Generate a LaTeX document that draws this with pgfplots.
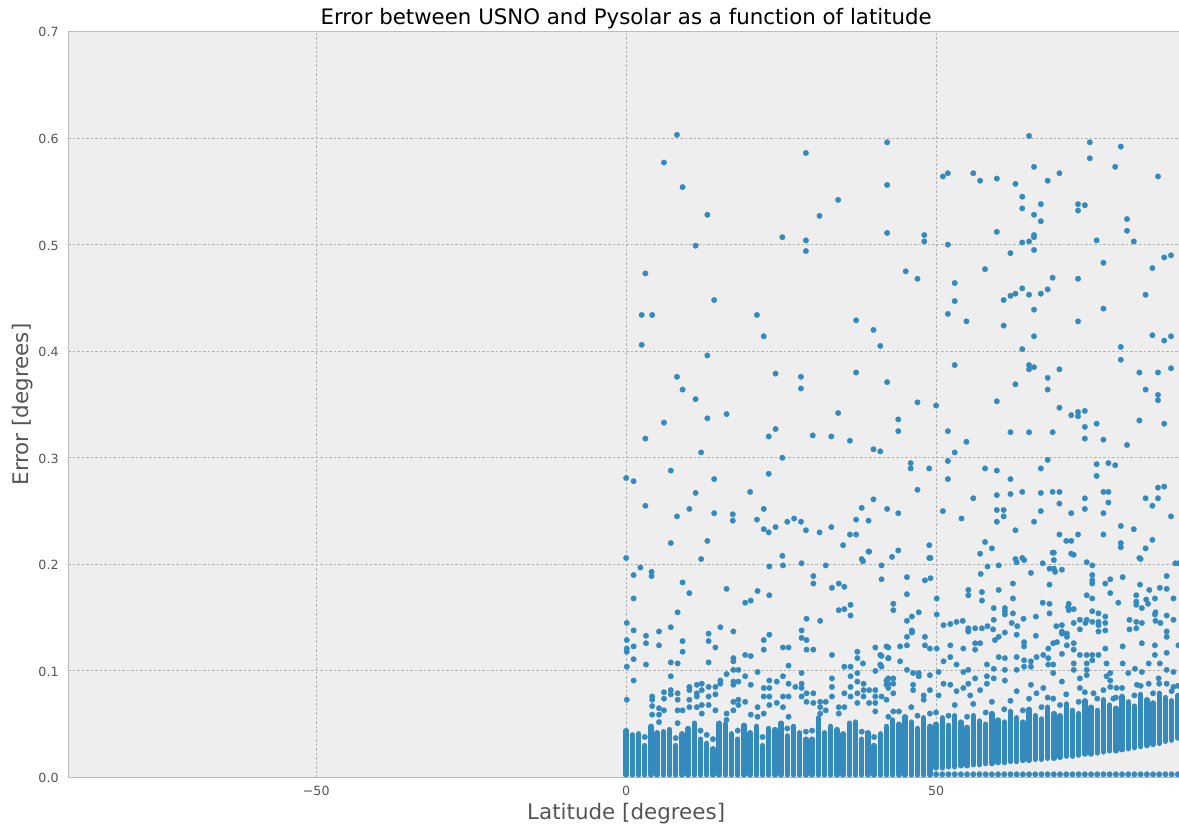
\documentclass[border=0pt]{standalone}
\usepackage{pgfplots}
\pgfplotsset{compat=1.18}
\usepackage{pgfplotstable}
\usepackage{fontspec}
\setmainfont{DejaVu Sans}
\definecolor{c1}{HTML}{348ABD}
\definecolor{bgc}{HTML}{EEEEEE}
\definecolor{gridc}{HTML}{B2B2B2}
\definecolor{spinec}{HTML}{BCBCBC}
\definecolor{tickc}{HTML}{555555}

% dense columns: latitude, lowest and highest marker centre of each solid stack (nan ends a column)
\pgfplotstableread{
lat err
0 0.0025
0 0.044
0 nan
1 0.0025
1 0.040
1 nan
2 0.0025
2 0.041
2 nan
3 0.0025
3 0.030
3 nan
4 0.0025
4 0.048
4 nan
5 0.0025
5 0.042
5 nan
6 0.0025
6 0.043
6 nan
7 0.0025
7 0.045
7 nan
8 0.0025
8 0.030
8 nan
9 0.0025
9 0.041
9 nan
10 0.0025
10 0.046
10 nan
11 0.0025
11 0.051
11 nan
12 0.0025
12 0.036
12 nan
13 0.0025
13 0.032
13 nan
14 0.0025
14 0.027
14 nan
15 0.0025
15 0.051
15 nan
16 0.0025
16 0.050
16 nan
17 0.0025
17 0.041
17 nan
18 0.0025
18 0.036
18 nan
19 0.0025
19 0.049
19 nan
20 0.0025
20 0.042
20 nan
21 0.0025
21 0.048
21 nan
22 0.0025
22 0.030
22 nan
23 0.0025
23 0.046
23 nan
24 0.0025
24 0.045
24 nan
25 0.0025
25 0.051
25 nan
26 0.0025
26 0.039
26 nan
27 0.0025
27 0.048
27 nan
28 0.0025
28 0.042
28 nan
29 0.0025
29 0.036
29 nan
30 0.0025
30 0.036
30 nan
31 0.0025
31 0.056
31 nan
32 0.0025
32 0.042
32 nan
33 0.0025
33 0.048
33 nan
34 0.0025
34 0.045
34 nan
35 0.0025
35 0.041
35 nan
36 0.0025
36 0.051
36 nan
37 0.0025
37 0.052
37 nan
38 0.0025
38 0.036
38 nan
39 0.0025
39 0.042
39 nan
40 0.0025
40 0.030
40 nan
41 0.0025
41 0.041
41 nan
42 0.0025
42 0.048
42 nan
43 0.0025
43 0.054
43 nan
44 0.0025
44 0.050
44 nan
45 0.0025
45 0.057
45 nan
46 0.0025
46 0.052
46 nan
47 0.0025
47 0.046
47 nan
48 0.0025
48 0.056
48 nan
49 0.0025
49 0.048
49 nan
50 0.009
50 0.050
50 nan
51 0.009
51 0.056
51 nan
52 0.010
52 0.049
52 nan
53 0.010
53 0.058
53 nan
54 0.011
54 0.052
54 nan
55 0.011
55 0.047
55 nan
56 0.012
56 0.058
56 nan
57 0.012
57 0.053
57 nan
58 0.013
58 0.050
58 nan
59 0.013
59 0.060
59 nan
60 0.014
60 0.054
60 nan
61 0.014
61 0.052
61 nan
62 0.015
62 0.062
62 nan
63 0.015
63 0.056
63 nan
64 0.016
64 0.052
64 nan
65 0.016
65 0.064
65 nan
66 0.017
66 0.058
66 nan
67 0.017
67 0.055
67 nan
68 0.018
68 0.066
68 nan
69 0.018
69 0.060
69 nan
70 0.019
70 0.058
70 nan
71 0.020
71 0.069
71 nan
72 0.020
72 0.063
72 nan
73 0.021
73 0.060
73 nan
74 0.022
74 0.072
74 nan
75 0.022
75 0.066
75 nan
76 0.023
76 0.063
76 nan
77 0.024
77 0.073
77 nan
78 0.025
78 0.068
78 nan
79 0.025
79 0.065
79 nan
80 0.026
80 0.076
80 nan
81 0.027
81 0.071
81 nan
82 0.028
82 0.067
82 nan
83 0.029
83 0.078
83 nan
84 0.030
84 0.073
84 nan
85 0.031
85 0.070
85 nan
86 0.032
86 0.079
86 nan
87 0.034
87 0.075
87 nan
88 0.035
88 0.072
88 nan
89 0.037
89 0.077
}\colsdata

% individual markers
\pgfplotstableread{
lat err
50 0.003
51 0.003
52 0.003
53 0.003
54 0.003
55 0.003
56 0.003
57 0.003
58 0.003
59 0.003
60 0.003
61 0.003
62 0.003
63 0.003
64 0.003
65 0.003
66 0.003
67 0.003
68 0.003
69 0.003
70 0.003
71 0.003
72 0.003
73 0.003
74 0.003
75 0.003
76 0.003
77 0.003
78 0.003
79 0.003
80 0.003
81 0.003
82 0.003
83 0.003
84 0.003
85 0.003
86 0.003
87 0.003
88 0.003
89 0.003
3 0.038
8 0.037
13 0.040
14 0.036
22 0.038
40 0.038
12 0.044
18 0.044
29 0.043
30 0.044
38 0.043
26 0.046
44 0.062
46 0.066
47 0.058
49 0.060
50 0.061
52 0.058
53 0.068
55 0.057
56 0.069
58 0.061
59 0.071
61 0.064
62 0.072
64 0.063
65 0.074
67 0.066
68 0.075
70 0.068
71 0.078
73 0.071
74 0.080
76 0.074
77 0.082
79 0.075
80 0.084
82 0.077
83 0.086
85 0.079
86 0.088
88 0.081
89 0.086
}\stacksdata

\pgfplotstableread{
lat err
0 0.206
0 0.281
1.2 0.278
2.5 0.406
2.5 0.434
3.1 0.255
3.1 0.318
3.1 0.473
4.2 0.434
6.1 0.333
6.1 0.577
7.2 0.220
7.2 0.288
8.2 0.245
8.2 0.376
8.2 0.603
9.1 0.364
9.1 0.554
10.2 0.252
11.2 0.267
11.2 0.355
11.2 0.499
12.1 0.205
12.1 0.305
13.1 0.222
13.1 0.337
13.1 0.396
13.1 0.528
14.2 0.248
14.2 0.280
14.2 0.448
16.2 0.341
17.2 0.241
17.2 0.247
20.0 0.268
21.1 0.242
21.1 0.434
22.2 0.233
22.2 0.252
22.2 0.414
23.0 0.230
23.0 0.285
23.0 0.320
24.1 0.235
24.1 0.327
24.1 0.379
25.2 0.208
25.2 0.300
25.2 0.507
26.0 0.240
27.1 0.243
28.2 0.240
28.2 0.365
28.2 0.376
29.0 0.232
29.0 0.494
29.0 0.504
29.0 0.586
30.1 0.321
31.2 0.230
31.2 0.527
33.1 0.235
33.1 0.320
34.2 0.342
34.2 0.542
35.0 0.218
36.1 0.228
36.1 0.316
37.1 0.228
37.1 0.242
37.1 0.380
37.1 0.429
38.0 0.205
38.0 0.253
39.1 0.212
39.1 0.241
39.9 0.261
39.9 0.308
39.9 0.420
41.0 0.306
41.0 0.405
42.1 0.252
42.1 0.371
42.1 0.511
42.1 0.556
42.1 0.596
42.9 0.207
43.9 0.213
43.9 0.248
43.9 0.325
43.9 0.336
65.0 0.602
74.8 0.596
79.8 0.592
74.8 0.581
78.9 0.573
65.8 0.573
85.8 0.564
51.1 0.564
51.9 0.567
56.0 0.567
57.1 0.560
59.8 0.562
62.8 0.557
68.0 0.560
69.9 0.567
63.9 0.545
63.9 0.534
66.9 0.538
65.8 0.528
66.9 0.522
72.9 0.538
72.9 0.532
74.0 0.537
80.8 0.524
80.8 0.513
81.9 0.503
75.9 0.504
59.8 0.512
48.1 0.509
48.1 0.503
51.9 0.500
63.9 0.502
65.0 0.503
65.8 0.509
65.8 0.507
65.8 0.495
62.0 0.492
77.0 0.483
87.9 0.490
86.8 0.488
84.9 0.478
45.1 0.475
47.0 0.468
57.9 0.477
68.8 0.469
72.9 0.468
53.0 0.464
53.0 0.447
51.9 0.435
54.9 0.428
60.9 0.448
62.0 0.452
62.8 0.454
63.9 0.459
65.0 0.453
66.9 0.454
68.0 0.458
65.8 0.439
60.9 0.424
65.8 0.414
72.9 0.428
77.0 0.440
83.8 0.453
84.9 0.415
86.8 0.410
87.9 0.414
79.8 0.404
79.8 0.392
63.9 0.402
53.0 0.387
65.0 0.387
65.0 0.383
65.8 0.385
69.9 0.383
68.0 0.375
68.0 0.364
62.8 0.369
82.8 0.380
85.8 0.380
87.9 0.384
83.8 0.364
85.8 0.359
85.8 0.354
47.0 0.352
50.0 0.349
59.8 0.353
69.9 0.347
71.8 0.340
72.9 0.343
72.9 0.339
74.0 0.344
74.0 0.329
75.9 0.332
74.0 0.318
77.0 0.317
80.8 0.312
82.8 0.335
86.8 0.332
51.9 0.325
54.9 0.315
53.0 0.305
62.0 0.324
65.0 0.324
68.8 0.324
45.9 0.295
45.9 0.290
48.9 0.290
51.9 0.297
51.9 0.280
47.0 0.270
57.9 0.290
59.8 0.288
62.0 0.280
68.0 0.298
66.9 0.290
75.9 0.294
75.9 0.283
77.8 0.295
78.9 0.293
56.0 0.262
59.8 0.265
62.0 0.266
63.9 0.268
66.9 0.267
68.8 0.268
69.9 0.268
69.9 0.257
77.0 0.268
77.8 0.268
77.8 0.258
74.0 0.262
71.8 0.248
74.0 0.252
77.0 0.248
83.8 0.262
85.8 0.262
85.8 0.272
86.8 0.273
84.9 0.255
87.9 0.245
51.1 0.250
54.1 0.243
59.8 0.251
60.9 0.251
60.9 0.245
59.8 0.240
62.8 0.232
65.8 0.240
66.9 0.250
69.9 0.228
71.0 0.222
71.8 0.222
72.9 0.228
77.0 0.228
79.8 0.236
81.9 0.233
79.8 0.220
79.8 0.216
83.8 0.215
84.9 0.223
48.9 0.218
48.9 0.206
57.9 0.221
59.0 0.215
57.1 0.210
68.8 0.211
71.8 0.210
62.8 0.205
63.9 0.206
82.8 0.206
88.6 0.201
}\upperdata

\pgfplotstableread{
lat err
0.1 0.145
0.1 0.129
0.1 0.121
0.1 0.118
0.1 0.104
0.1 0.073
1.2 0.190
1.2 0.168
1.2 0.138
1.2 0.123
1.2 0.111
1.2 0.091
2.3 0.197
3.2 0.133
3.2 0.126
3.2 0.106
4.1 0.193
4.1 0.189
4.2 0.076
4.2 0.073
4.2 0.067
4.2 0.059
5.3 0.137
5.3 0.124
5.3 0.065
5.3 0.059
5.3 0.052
6.1 0.080
6.1 0.074
6.1 0.063
7.2 0.141
7.2 0.108
7.2 0.095
7.2 0.082
7.2 0.078
8.3 0.155
8.3 0.107
8.3 0.079
8.3 0.073
8.3 0.063
8.3 0.051
9.1 0.183
9.1 0.128
9.1 0.118
9.1 0.063
10.2 0.173
10.2 0.085
10.2 0.082
10.2 0.073
10.2 0.066
11.4 0.087
11.4 0.079
11.4 0.076
11.4 0.066
12.2 0.088
12.2 0.082
12.2 0.068
12.2 0.060
13.3 0.135
13.3 0.128
13.3 0.108
13.3 0.085
13.3 0.076
13.3 0.068
14.4 0.122
14.4 0.085
14.4 0.078
14.4 0.063
15.2 0.141
15.2 0.091
15.2 0.088
16.2 0.177
16.2 0.097
16.2 0.060
16.2 0.054
17.3 0.137
17.3 0.112
17.3 0.109
17.3 0.101
17.3 0.090
17.3 0.087
17.3 0.071
17.3 0.063
18.1 0.101
18.1 0.090
18.1 0.073
18.1 0.068
19.2 0.164
19.2 0.115
19.2 0.095
19.2 0.071
20.1 0.166
20.1 0.114
20.1 0.087
20.1 0.059
21.2 0.175
21.2 0.099
21.2 0.066
21.2 0.057
22.2 0.129
22.2 0.120
22.2 0.084
22.2 0.076
22.2 0.060
23.1 0.198
23.1 0.171
23.1 0.134
23.1 0.091
23.1 0.084
23.1 0.076
23.1 0.068
24.3 0.090
24.3 0.070
25.3 0.199
25.3 0.122
25.3 0.095
25.3 0.076
25.3 0.066
26.2 0.122
26.2 0.105
26.2 0.088
26.2 0.076
26.2 0.057
27.3 0.085
28.3 0.201
28.3 0.138
28.3 0.131
28.3 0.098
28.3 0.088
28.3 0.084
28.3 0.076
29.1 0.149
29.1 0.129
29.1 0.120
29.1 0.079
29.1 0.071
30.2 0.189
30.2 0.182
30.2 0.120
30.2 0.079
30.2 0.070
31.3 0.147
31.3 0.071
31.3 0.066
31.3 0.060
32.2 0.199
32.2 0.071
32.2 0.063
33.2 0.178
33.2 0.115
33.2 0.093
33.2 0.085
33.2 0.076
34.3 0.182
34.3 0.157
34.3 0.066
34.3 0.060
35.2 0.179
35.2 0.158
35.2 0.104
35.2 0.079
35.2 0.066
36.2 0.162
36.2 0.152
36.2 0.104
36.2 0.095
36.2 0.085
36.2 0.076
37.3 0.118
37.3 0.112
37.3 0.098
37.3 0.090
37.3 0.079
37.3 0.070
38.2 0.203
38.2 0.107
38.3 0.088
38.3 0.082
38.3 0.076
39.2 0.212
39.2 0.082
39.2 0.070
40.2 0.122
40.2 0.100
40.2 0.082
40.2 0.076
40.2 0.070
40.2 0.062
41.2 0.199
41.2 0.186
41.2 0.114
41.2 0.104
41.2 0.076
42.3 0.122
42.3 0.112
42.3 0.093
42.3 0.088
42.3 0.084
42.3 0.057
43.1 0.163
43.1 0.157
43.1 0.079
43.1 0.062
45.3 0.188
45.3 0.172
48.2 0.185
49.1 0.187
49.1 0.206
45.3 0.147
46.1 0.151
47.2 0.155
46.1 0.138
46.1 0.136
50.1 0.168
50.1 0.153
51.2 0.143
52.3 0.144
53.3 0.146
54.3 0.147
55.2 0.176
55.2 0.171
57.2 0.191
58.3 0.198
57.4 0.174
57.4 0.166
55.2 0.140
55.2 0.137
56.3 0.140
57.4 0.140
58.3 0.142
60.1 0.199
60.1 0.176
62.4 0.182
63.0 0.202
64.2 0.204
65.3 0.192
67.2 0.201
68.3 0.181
69.0 0.211
69.0 0.204
69.0 0.196
70.3 0.195
72.2 0.209
74.3 0.202
75.2 0.199
75.2 0.190
75.2 0.185
75.2 0.182
77.3 0.182
78.1 0.186
80.1 0.188
78.1 0.173
79.4 0.164
83.0 0.205
82.9 0.181
82.3 0.171
82.3 0.165
82.3 0.162
84.4 0.176
83.9 0.167
85.3 0.168
87.2 0.189
88.3 0.168
87.2 0.177
59.3 0.159
59.3 0.148
61.1 0.159
61.1 0.156
62.4 0.154
64.1 0.149
68.3 0.163
68.3 0.154
69.4 0.142
70.3 0.143
70.3 0.137
71.4 0.163
71.4 0.157
72.2 0.158
73.2 0.148
74.3 0.148
75.2 0.156
76.2 0.154
76.2 0.146
77.3 0.151
77.3 0.138
81.2 0.148
82.3 0.146
82.3 0.140
85.4 0.155
85.4 0.147
87.2 0.137
88.3 0.148
62.4 0.168
66.1 0.151
67.2 0.164
68.3 0.196
69.2 0.193
71.3 0.160
71.1 0.135
73.2 0.139
74.3 0.171
75.2 0.168
74.1 0.145
75.2 0.146
76.2 0.143
77.3 0.145
83.2 0.159
83.2 0.145
84.2 0.163
85.3 0.153
86.1 0.178
87.2 0.152
86.2 0.145
81.2 0.139
89.1 0.201
62.2 0.145
63.1 0.142
72.2 0.145
70.3 0.136
59.2 0.139
61.1 0.153
41.0 0.115
41.0 0.106
42.0 0.123
42.3 0.112
42.0 0.091
42.0 0.087
43.1 0.093
43.1 0.088
42.0 0.073
44.2 0.123
44.2 0.109
45.3 0.132
45.3 0.124
45.3 0.101
46.1 0.137
46.3 0.098
46.3 0.087
46.3 0.082
47.2 0.098
47.2 0.095
48.2 0.132
48.2 0.124
49.0 0.121
50.1 0.121
49.0 0.096
50.4 0.099
50.4 0.077
49.0 0.082
48.0 0.077
48.0 0.073
51.2 0.109
52.3 0.124
52.3 0.113
51.2 0.088
52.3 0.087
53.3 0.106
54.4 0.099
54.4 0.121
55.2 0.101
55.2 0.138
56.3 0.126
56.3 0.120
55.2 0.088
53.3 0.081
54.4 0.084
55.5 0.077
57.1 0.126
56.3 0.093
57.1 0.082
58.2 0.106
58.2 0.095
58.2 0.088
59.3 0.102
59.3 0.093
59.5 0.129
60.1 0.113
60.1 0.132
61.1 0.136
61.1 0.112
61.1 0.101
61.1 0.091
63.0 0.134
63.0 0.113
63.0 0.101
63.0 0.081
64.2 0.127
64.2 0.123
64.2 0.110
64.2 0.104
65.3 0.109
65.3 0.104
65.3 0.087
66.1 0.133
66.2 0.113
66.2 0.079
67.3 0.115
67.3 0.084
68.1 0.121
68.1 0.112
68.1 0.106
68.9 0.126
68.9 0.106
68.9 0.098
68.9 0.074
69.5 0.127
70.3 0.135
70.3 0.116
70.3 0.090
71.1 0.132
71.1 0.124
72.2 0.126
72.2 0.120
72.2 0.107
72.2 0.101
73.2 0.115
73.2 0.093
73.2 0.084
74.3 0.115
74.3 0.107
74.3 0.101
74.3 0.096
75.2 0.115
75.2 0.110
75.4 0.079
76.2 0.115
76.2 0.137
77.3 0.121
77.5 0.107
77.5 0.095
78.1 0.098
78.1 0.091
78.1 0.085
78.6 0.074
79.1 0.084
80.1 0.123
80.1 0.107
81.0 0.098
82.1 0.102
82.4 0.087
83.2 0.126
83.2 0.099
84.3 0.107
84.3 0.088
85.3 0.124
85.3 0.115
85.9 0.093
86.1 0.107
87.2 0.132
87.2 0.117
87.2 0.101
87.2 0.088
88.3 0.099
88.3 0.085
89.1 0.124
89.1 0.073
}\middata

\begin{document}
\begin{tikzpicture}
\begin{axis}[
  at={(34.15bp,24.25bp)}, anchor=south west,
  scale only axis, width=557.85bp, height=373bp,
  xmin=-90, xmax=90, ymin=0, ymax=0.7,
  axis background/.style={fill=bgc},
  axis line style={spinec, line width=0.5bp},
  tick style={draw=none},
  xtick={-50,0,50}, xticklabels={−50,0,50},
  ytick={0,0.1,0.2,0.3,0.4,0.5,0.6,0.7},
  yticklabels={0.0,0.1,0.2,0.3,0.4,0.5,0.6,0.7},
  grid=major,
  major grid style={gridc, line width=0.5bp, dash pattern=on 1.25bp off 1bp},
  tick label style={font=\fontsize{6.35}{8}\selectfont, text=tickc},
  xticklabel style={anchor=base, inner sep=0pt, yshift=-8.75bp},
  yticklabel style={anchor=mid east, inner sep=0pt, xshift=-4.65bp},
  every axis title shift=0pt,
  title={Error between USNO and Pysolar as a function of latitude},
  title style={at={(0.5,1.00871)}, anchor=base, inner sep=0pt,
    font=\fontsize{10.7}{13}\selectfont, text=black},
  xlabel={Latitude [degrees]},
  xlabel style={at={(0.5,-0.05603)}, anchor=base, inner sep=0pt,
    font=\fontsize{10.75}{13}\selectfont, text=tickc},
  ylabel={Error [degrees]},
  ylabel style={at={(-0.03585,0.5)}, anchor=base, inner sep=0pt,
    font=\fontsize{10.75}{13}\selectfont, text=tickc},
]
\addplot[c1, line width=2.7bp, line cap=round, unbounded coords=jump, mark=none]
  table[x=lat, y=err] {\colsdata};
\addplot[only marks, mark=*, mark size=1.375bp, mark options={fill=c1, draw=c1, line width=0.15bp}]
  table[x=lat, y=err] {\stacksdata};
\addplot[only marks, mark=*, mark size=1.375bp, mark options={fill=c1, draw=c1, line width=0.15bp}]
  table[x=lat, y=err] {\middata};
\addplot[only marks, mark=*, mark size=1.375bp, mark options={fill=c1, draw=c1, line width=0.15bp}]
  table[x=lat, y=err] {\upperdata};
\end{axis}
\pgfresetboundingbox
\path[use as bounding box] (0,0) rectangle (589.5bp,413bp);
\end{tikzpicture}
\end{document}
